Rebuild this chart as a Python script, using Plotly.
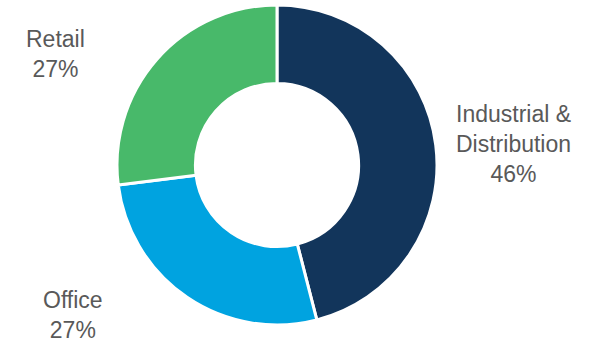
import plotly.graph_objects as go

W, H = 603, 342
categories = ["Industrial & Distribution", "Office", "Retail"]
values = [46, 27, 27]
label_texts = ["Industrial &<br>Distribution<br>46%", "Office<br>27%", "Retail<br>27%"]
colors = ["#12355B", "#00A3E0", "#48B96A"]

cx, cy, r = 277, 165, 160
label_pos = [(513, 144), (73, 315), (56, 54)]

fig = go.Figure(go.Pie(
    labels=categories, values=values, hole=0.51, sort=False, direction="clockwise",
    rotation=0, textinfo="none", hoverinfo="label+percent",
    marker=dict(colors=colors, line=dict(color="white", width=3)),
    domain=dict(x=[(cx - r) / W, (cx + r) / W], y=[(H - cy - r) / H, (H - cy + r) / H]),
    showlegend=False,
))

for t, (x, y) in zip(label_texts, label_pos):
    fig.add_annotation(text=t, x=x / W, y=1 - y / H, xref="paper", yref="paper",
                       xanchor="center", yanchor="middle", showarrow=False, align="center",
                       font=dict(family="Liberation Sans, Arial", size=23, color="#595959"))

fig.update_layout(width=W, height=H, margin=dict(l=0, r=0, t=0, b=0),
                  paper_bgcolor="white", plot_bgcolor="white")
fig.write_html("out.html")
